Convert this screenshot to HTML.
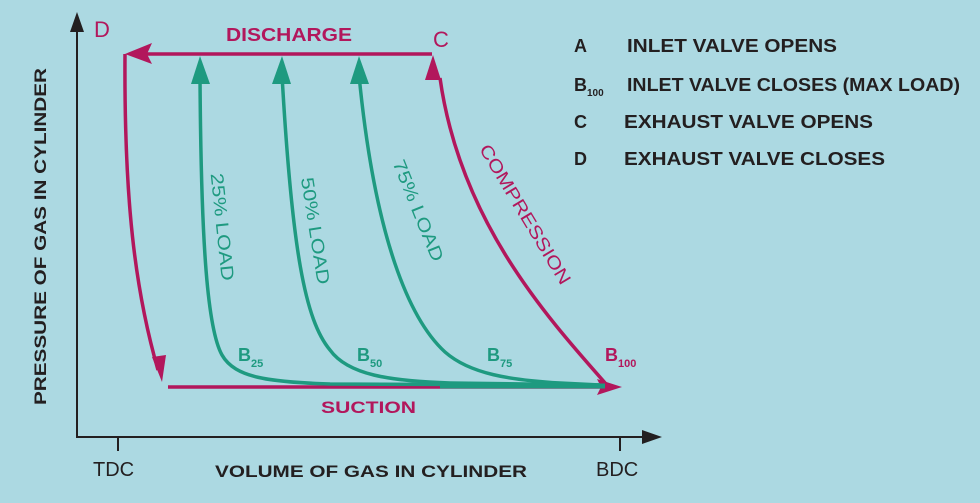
<!DOCTYPE html>
<html><head><meta charset="utf-8"><style>
html,body{margin:0;padding:0;background:#acd9e2;}
svg{display:block;font-family:"Liberation Sans",Arial,sans-serif;}
</style></head><body>
<svg width="980" height="503" viewBox="0 0 980 503" xmlns="http://www.w3.org/2000/svg">
<rect width="980" height="503" fill="#acd9e2"/>
<!-- axes -->
<line x1="77" y1="437" x2="77" y2="28" stroke="#231f20" stroke-width="2"/>
<polygon points="77,12 70,32 84,32" fill="#231f20"/>
<line x1="76" y1="437" x2="645" y2="437" stroke="#231f20" stroke-width="2"/>
<polygon points="662,437 642,430 642,444" fill="#231f20"/>
<line x1="118" y1="437" x2="118" y2="451" stroke="#231f20" stroke-width="2"/>
<line x1="620" y1="437" x2="620" y2="451" stroke="#231f20" stroke-width="2"/>
<text x="93" y="476" font-size="20" fill="#231f20">TDC</text>
<text x="596" y="476" font-size="20" fill="#231f20">BDC</text>
<text x="215" y="477" font-size="17" font-weight="bold" fill="#231f20" textLength="312" lengthAdjust="spacingAndGlyphs">VOLUME OF GAS IN CYLINDER</text>
<text transform="translate(46,405) rotate(-90)" font-size="17" font-weight="bold" fill="#231f20" textLength="337" lengthAdjust="spacingAndGlyphs">PRESSURE OF GAS IN CYLINDER</text>

<!-- magenta cycle -->
<g stroke="#b2175c" stroke-width="3.5" fill="none">
<line x1="432" y1="54" x2="140" y2="54"/>
<path d="M125,54 C124,200 135,290 158,370"/>
<line x1="168" y1="387" x2="605" y2="387"/>
<path d="M606,384 C545,315 460,220 440,78"/>
</g>
<g fill="#b2175c">
<polygon points="125,54 152,43 147,54 152,64"/>
<polygon points="162,382 152,357 166,355"/>
<polygon points="622,387 597,379 601,387 597,395"/>
<polygon points="433,55 425,80 441,80"/>
</g>

<!-- green curves -->
<g stroke="#1e9a80" stroke-width="3.5" fill="none">
<path d="M200,75 C201,250 208,330 222,355 C235,378 270,382 330,384 L600,385"/>
<path d="M282,75 C292,250 305,320 330,350 C348,375 390,381 450,383 L600,385"/>
<path d="M359,75 C375,240 410,320 445,352 C470,374 510,380 560,383 L600,385"/>
<line x1="440" y1="386" x2="605" y2="386" stroke-width="5"/>
</g>
<g fill="#1e9a80">
<polygon points="200,56 191,84 210,84"/>
<polygon points="282,56 272,84 291,84"/>
<polygon points="359,56 350,84 369,84"/>
</g>

<!-- cycle labels -->
<text x="94" y="37" font-size="22" fill="#b2175c">D</text>
<text x="433" y="47" font-size="22" fill="#b2175c">C</text>
<text x="226" y="41" font-size="18" font-weight="bold" fill="#b2175c" textLength="126" lengthAdjust="spacingAndGlyphs">DISCHARGE</text>
<text x="321" y="413" font-size="17" font-weight="bold" fill="#b2175c" textLength="95" lengthAdjust="spacingAndGlyphs">SUCTION</text>
<text transform="translate(524,215) rotate(59)" text-anchor="middle" dominant-baseline="middle" font-size="18" fill="#b2175c" textLength="160" lengthAdjust="spacingAndGlyphs">COMPRESSION</text>
<text x="605" y="361" font-size="18" font-weight="bold" fill="#b2175c">B<tspan font-size="11" dy="6">100</tspan></text>

<text transform="translate(221,227) rotate(84)" text-anchor="middle" dominant-baseline="middle" font-size="18" fill="#1e9a80" textLength="108" lengthAdjust="spacingAndGlyphs">25% LOAD</text>
<text transform="translate(314,231) rotate(81)" text-anchor="middle" dominant-baseline="middle" font-size="18" fill="#1e9a80" textLength="108" lengthAdjust="spacingAndGlyphs">50% LOAD</text>
<text transform="translate(417,211) rotate(68)" text-anchor="middle" dominant-baseline="middle" font-size="18" fill="#1e9a80" textLength="108" lengthAdjust="spacingAndGlyphs">75% LOAD</text>
<text x="238" y="361" font-size="18" font-weight="bold" fill="#1e9a80">B<tspan font-size="11" dy="6">25</tspan></text>
<text x="357" y="361" font-size="18" font-weight="bold" fill="#1e9a80">B<tspan font-size="11" dy="6">50</tspan></text>
<text x="487" y="361" font-size="18" font-weight="bold" fill="#1e9a80">B<tspan font-size="11" dy="6">75</tspan></text>

<!-- legend -->
<g font-size="18" font-weight="bold" fill="#231f20">
<text x="574" y="52">A</text>
<text x="627" y="52" textLength="210" lengthAdjust="spacingAndGlyphs">INLET VALVE OPENS</text>
<text x="574" y="91">B<tspan font-size="10" dy="5">100</tspan></text>
<text x="627" y="91" textLength="333" lengthAdjust="spacingAndGlyphs">INLET VALVE CLOSES (MAX LOAD)</text>
<text x="574" y="128">C</text>
<text x="624" y="128" textLength="249" lengthAdjust="spacingAndGlyphs">EXHAUST VALVE OPENS</text>
<text x="574" y="165">D</text>
<text x="624" y="165" textLength="261" lengthAdjust="spacingAndGlyphs">EXHAUST VALVE CLOSES</text>
</g>
</svg>
</body></html>
